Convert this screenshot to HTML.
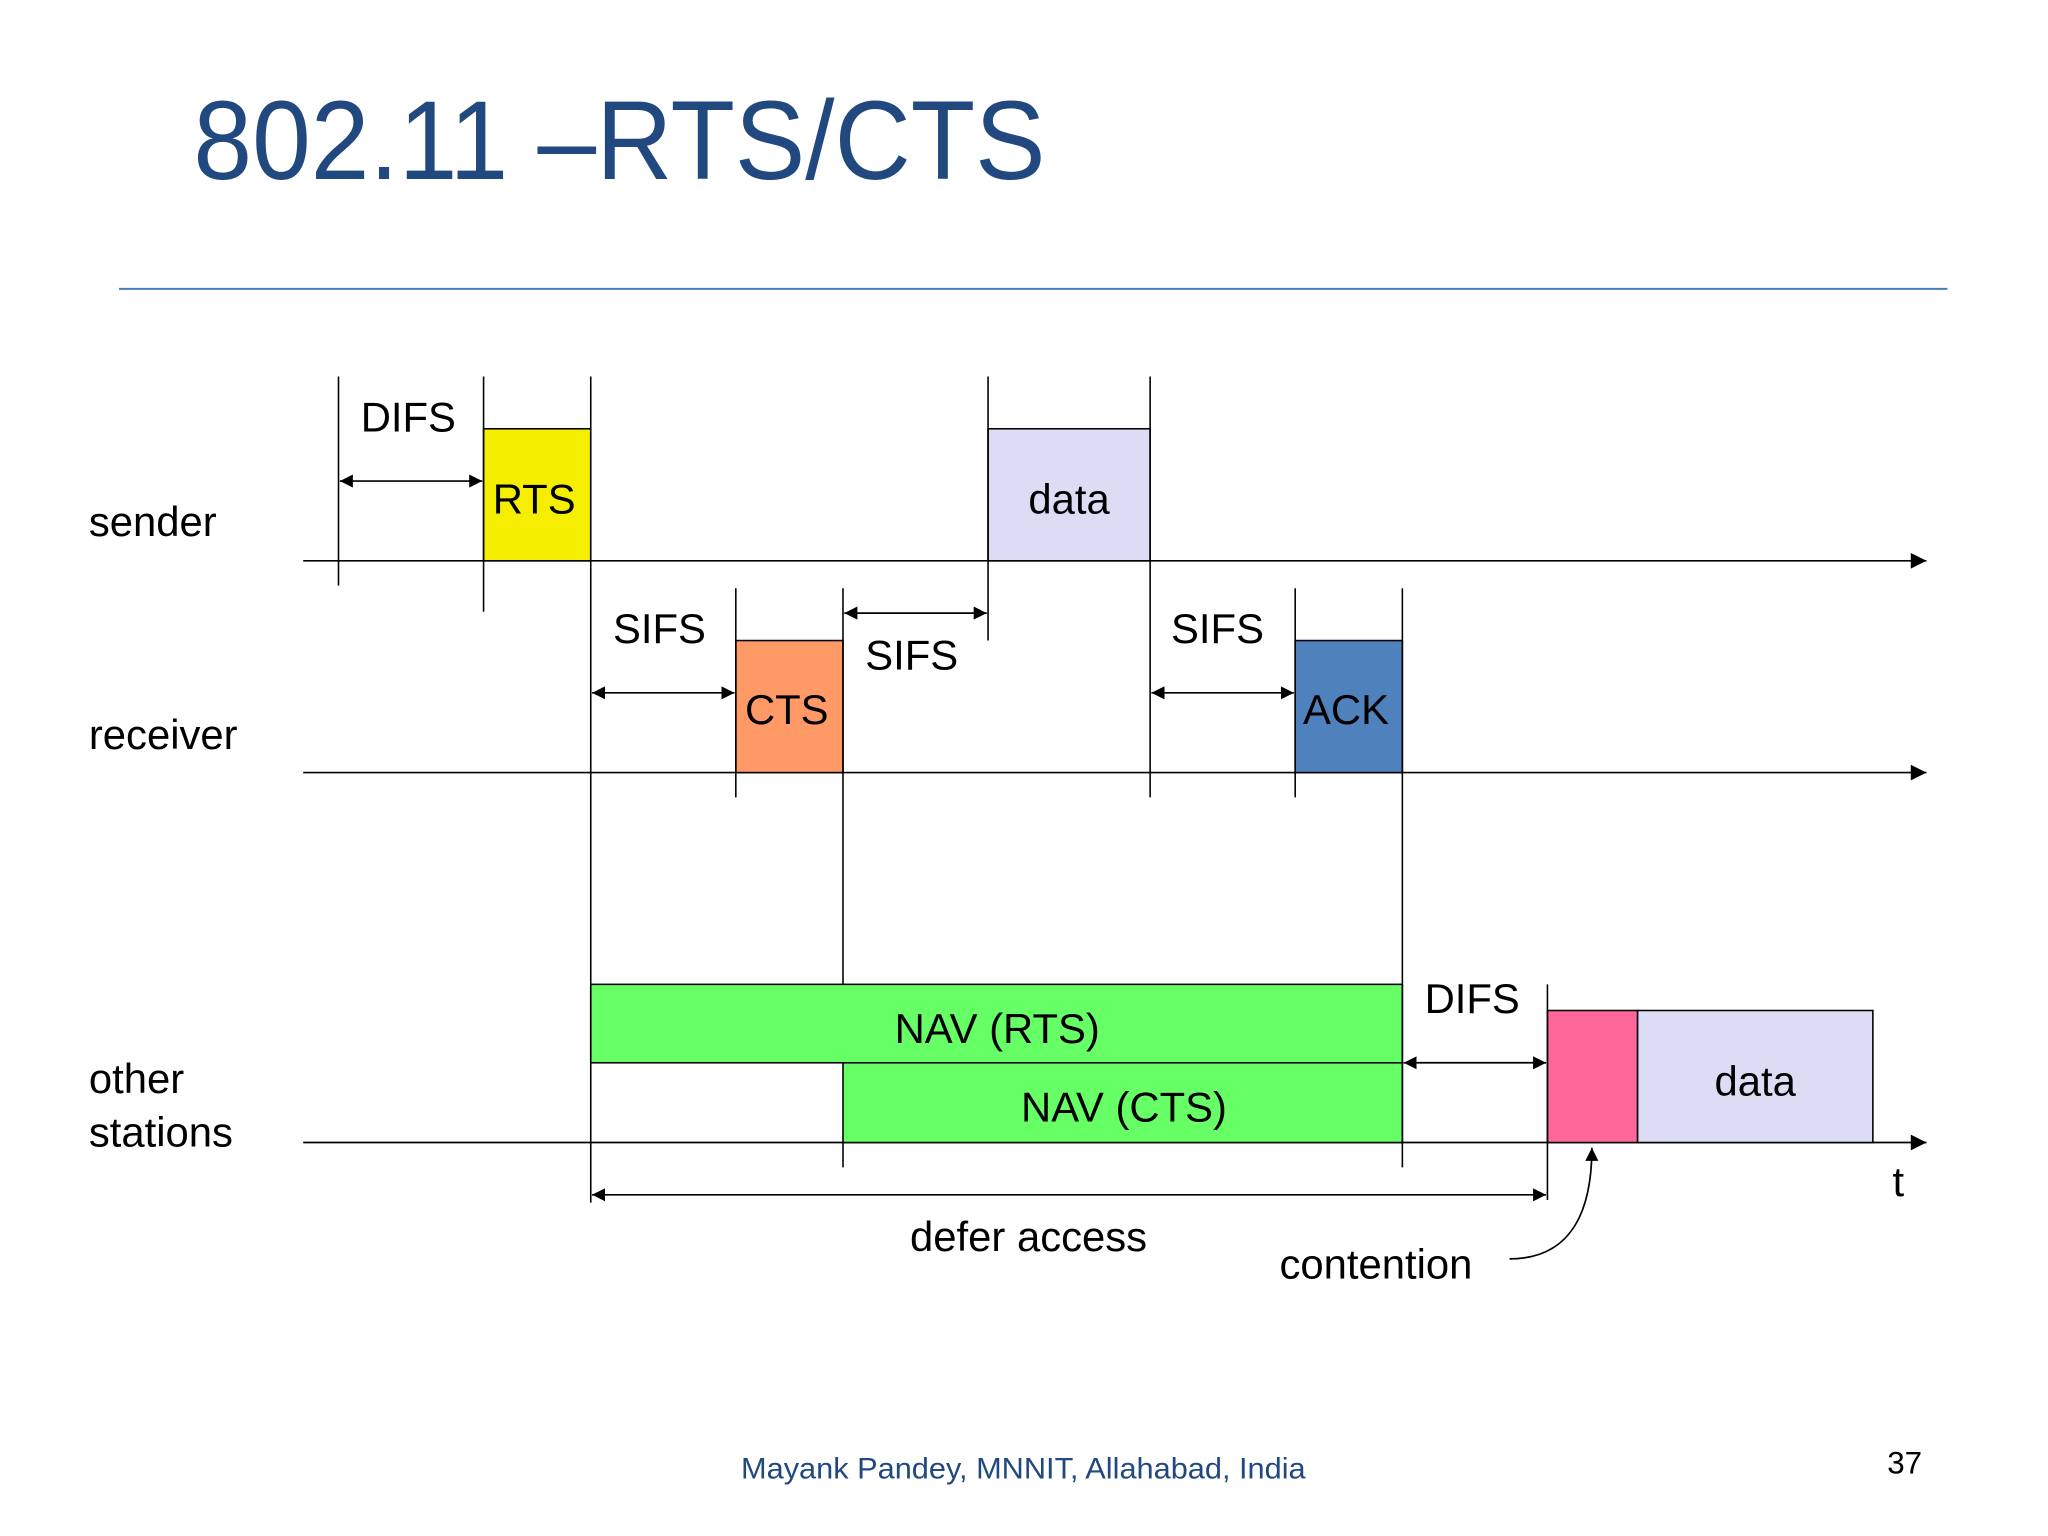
<!DOCTYPE html>
<html><head><meta charset="utf-8"><style>html,body{margin:0;padding:0;background:#fff}svg{display:block}</style></head>
<body>
<svg width="2048" height="1536" viewBox="0 0 1567 1175" preserveAspectRatio="none" xmlns="http://www.w3.org/2000/svg" font-family="Liberation Sans, sans-serif">
<defs>
<marker id="a" viewBox="0 0 10 10" refX="10" refY="5" markerWidth="10" markerHeight="10" markerUnits="userSpaceOnUse" orient="auto-start-reverse"><path d="M0,0 L10,5 L0,10 z" fill="#000"/></marker>
<marker id="b" viewBox="0 0 10 10" refX="10" refY="5" markerWidth="13" markerHeight="12" markerUnits="userSpaceOnUse" orient="auto"><path d="M0,0 L10,5 L0,10 z" fill="#000"/></marker>
</defs>
<rect width="1567" height="1175" fill="#fff"/>
<text x="148" y="137" font-size="86" fill="#22497f" textLength="652" lengthAdjust="spacingAndGlyphs">802.11 –RTS/CTS</text>
<line x1="91" y1="221" x2="1490" y2="221" stroke="#4a7ebb" stroke-width="1.5"/>

<g stroke="#000" stroke-width="1.3" fill="none">
<line x1="232" y1="429" x2="1474" y2="429" marker-end="url(#b)"/>
<line x1="232" y1="591" x2="1474" y2="591" marker-end="url(#b)"/>
<line x1="232" y1="874" x2="1474" y2="874" marker-end="url(#b)"/>
</g>

<g stroke="#000" stroke-width="1.2">
<rect x="370" y="328" width="82" height="101" fill="#f5ee00"/>
<rect x="756" y="328" width="124" height="101" fill="#dcdcf5"/>
<rect x="563" y="490" width="82" height="101" fill="#ff9966"/>
<rect x="991" y="490" width="82" height="101" fill="#4f81bd"/>
<rect x="452" y="753" width="621" height="60" fill="#66ff66"/>
<rect x="645" y="813" width="428" height="61" fill="#66ff66"/>
<rect x="1184" y="773" width="69" height="101" fill="#ff6699"/>
<rect x="1253" y="773" width="180" height="101" fill="#dcdcf5"/>
</g>

<g stroke="#000" stroke-width="1.2">
<line x1="259" y1="288" x2="259" y2="448"/>
<line x1="370" y1="288" x2="370" y2="468"/>
<line x1="452" y1="288" x2="452" y2="920"/>
<line x1="756" y1="288" x2="756" y2="490"/>
<line x1="880" y1="288" x2="880" y2="610"/>
<line x1="563" y1="450" x2="563" y2="610"/>
<line x1="645" y1="450" x2="645" y2="753"/>
<line x1="645" y1="874" x2="645" y2="893"/>
<line x1="991" y1="450" x2="991" y2="610"/>
<line x1="1073" y1="450" x2="1073" y2="893"/>
<line x1="1184" y1="753" x2="1184" y2="918"/>
</g>

<g stroke="#000" stroke-width="1.3">
<line x1="260" y1="368" x2="369" y2="368" marker-start="url(#a)" marker-end="url(#a)"/>
<line x1="453" y1="530" x2="562" y2="530" marker-start="url(#a)" marker-end="url(#a)"/>
<line x1="646" y1="469" x2="755" y2="469" marker-start="url(#a)" marker-end="url(#a)"/>
<line x1="881" y1="530" x2="990" y2="530" marker-start="url(#a)" marker-end="url(#a)"/>
<line x1="1074" y1="813" x2="1183" y2="813" marker-start="url(#a)" marker-end="url(#a)"/>
<line x1="453" y1="914" x2="1183" y2="914" marker-start="url(#a)" marker-end="url(#a)"/>
<path d="M1155,963 C1200,963 1218,930 1218,878" fill="none" marker-end="url(#a)"/>
</g>

<g font-size="32" fill="#000">
<text x="68" y="410">sender</text>
<text x="68" y="573">receiver</text>
<text x="68" y="836">other</text>
<text x="68" y="877">stations</text>
<text x="276" y="330">DIFS</text>
<text x="377" y="393">RTS</text>
<text x="818" y="393" text-anchor="middle">data</text>
<text x="469" y="492">SIFS</text>
<text x="570" y="554">CTS</text>
<text x="662" y="512">SIFS</text>
<text x="896" y="492">SIFS</text>
<text x="997" y="554">ACK</text>
<text x="763" y="798" text-anchor="middle">NAV (RTS)</text>
<text x="860" y="858" text-anchor="middle">NAV (CTS)</text>
<text x="1090" y="775">DIFS</text>
<text x="1343" y="838" text-anchor="middle">data</text>
<text x="1448" y="915">t</text>
<text x="787" y="957" text-anchor="middle">defer access</text>
<text x="979" y="978">contention</text>
</g>

<text x="783" y="1131" font-size="23" fill="#22497f" text-anchor="middle" textLength="432" lengthAdjust="spacingAndGlyphs">Mayank Pandey, MNNIT, Allahabad, India</text>
<text x="1444" y="1127" font-size="24" fill="#000">37</text>
</svg>
</body></html>
